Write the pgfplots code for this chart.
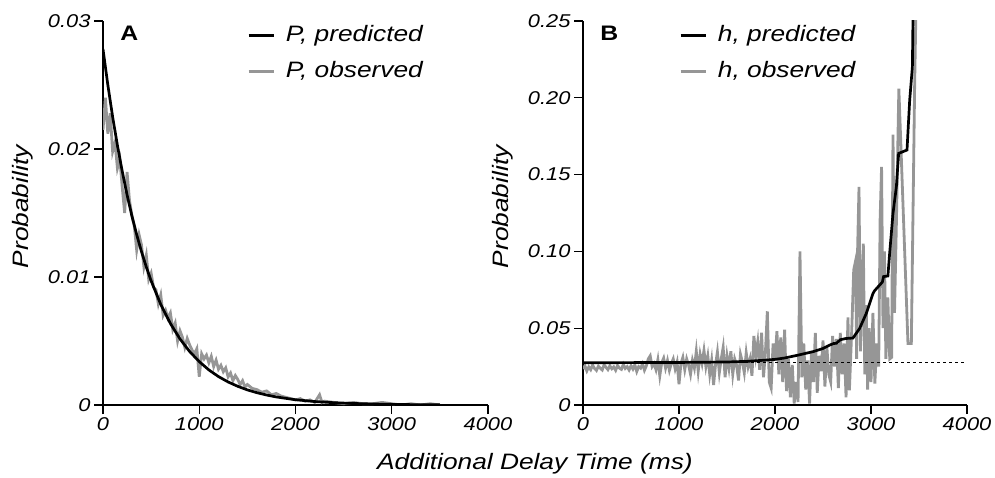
\documentclass[border=0pt]{standalone}
\usepackage{pgfplots}
\pgfplotsset{compat=1.18}
\usepackage{fontspec}
\setmainfont{Liberation Sans}[FakeStretch=1.18]
\definecolor{obsgray}{RGB}{150,150,150}
\pgfplotsset{
  panel/.style={
    scale only axis,
    axis x line=bottom, axis y line=left,
    axis line style={-, line width=1.2pt},
    every tick/.style={black, line width=1.2pt},
    tick align=outside,
    major tick length=9pt,
    xmin=0, xmax=4000,
    xtick={0,1000,2000,3000,4000},
    xticklabels={0,1000,2000,3000,4000},
    /pgf/number format/assume math mode=true,
    scaled ticks=false,
    tick label style={font=\itshape\fontsize{18.5}{19}\selectfont},
    ylabel={Probability},
    ylabel style={font=\itshape\fontsize{22.3}{24}\selectfont, at={(axis description cs:-0.208,0.516)}, anchor=center},
    legend style={draw=none, fill=none, inner sep=0pt, font=\itshape\fontsize{22.3}{24}\selectfont,
      nodes={inner sep=0pt, text height=16pt, text depth=5pt}, row sep=15pt, column sep=11pt},
    legend cell align=left,
    legend image code/.code={\draw[#1] (0pt,0pt) -- (25pt,0pt);},
  }
}
\begin{document}
\begin{tikzpicture}
\useasboundingbox (0,0) rectangle (995pt,477pt);
% Panel A
\begin{axis}[panel,
  at={(103pt,72pt)}, anchor=south west,
  width=385pt, height=384pt,
  ymin=0, ymax=0.03,
  ytick={0,0.01,0.02,0.03},
  yticklabels={0,0.01,0.02,0.03},
  legend style={at={(axis description cs:0.374,0.990)}, anchor=north west},
]
\addlegendimage{black, line width=2.7pt}
\addlegendentry{P, predicted}
\addlegendimage{obsgray, line width=2.7pt}
\addlegendentry{P, observed}
\addplot[obsgray, line width=2.8pt, forget plot] coordinates {
(0,0.0215) (25,0.0240) (50,0.0212) (75,0.0228) (100,0.0198) (125,0.0205) (150,0.0185) (175,0.0192)
(200,0.0170) (225,0.0150) (250,0.0182) (275,0.0160) (300,0.0148) (325,0.0140) (350,0.0121) (375,0.0133)
(400,0.0125) (425,0.0108) (450,0.0117) (475,0.0098) (500,0.0103) (525,0.0092) (550,0.0090) (575,0.0079)
(600,0.0086) (625,0.0070) (650,0.0074) (675,0.0068) (700,0.0072) (725,0.0059) (750,0.0064) (775,0.0050)
(800,0.0058) (825,0.0053) (850,0.0045) (875,0.0052) (900,0.0047) (925,0.0043) (950,0.0040) (975,0.0044)
(1000,0.0022) (1025,0.0040) (1050,0.0036) (1075,0.0039) (1100,0.0033) (1125,0.0038) (1150,0.0030) (1175,0.0035)
(1200,0.0028) (1225,0.0031) (1250,0.0026) (1275,0.0029) (1300,0.0022) (1325,0.0025) (1350,0.0019) (1375,0.0023)
(1400,0.0020) (1425,0.0016) (1450,0.0019) (1475,0.0014) (1500,0.0016) (1550,0.0013) (1600,0.0012) (1650,0.0010)
(1700,0.0011) (1750,0.0008) (1800,0.0009) (1850,0.0007) (1900,0.0006) (1950,0.0005) (2000,0.0004) (2050,0.0005)
(2100,0.0003) (2150,0.0004) (2200,0.0002) (2250,0.0008) (2275,0.0002) (2300,0.0003) (2400,0.0002) (2500,0.0001)
(2600,0.0002) (2700,0.0001) (2800,0.0001) (2900,0.0002) (3000,0.0001) (3100,0.0000) (3200,0.0001) (3300,0.0000)
(3400,0.0001) (3500,0.0000)
};
\addplot[black, line width=2.7pt, forget plot] coordinates {
(0,0.02780) (50,0.02502) (100,0.02252) (150,0.02027) (200,0.01825) (250,0.01642) (300,0.01478)
(350,0.01331) (400,0.01198) (450,0.01078) (500,0.00970) (600,0.00786) (700,0.00637) (800,0.00516)
(900,0.00418) (1000,0.00339) (1100,0.00274) (1200,0.00222) (1300,0.00180) (1400,0.00146) (1500,0.00118)
(1600,0.00096) (1700,0.00078) (1800,0.00063) (2000,0.00041) (2200,0.00027) (2400,0.00018) (2600,0.00012)
(2800,0.00008) (3000,0.00005) (3200,0.00003) (3500,0.00002)
};
\node[anchor=base west, font=\bfseries\fontsize{21}{22}\selectfont] at (axis description cs:0.036,0.948) {A};
\end{axis}
% Panel B
\begin{axis}[panel,
  at={(583pt,72pt)}, anchor=south west,
  width=384pt, height=384pt,
  ymin=0, ymax=0.25,
  ytick={0,0.05,0.10,0.15,0.20,0.25},
  yticklabels={0,0.05,0.10,0.15,0.20,0.25},
  legend style={at={(axis description cs:0.25,0.990)}, anchor=north west},
]
\addlegendimage{black, line width=2.7pt}
\addlegendentry{h, predicted}
\addlegendimage{obsgray, line width=2.7pt}
\addlegendentry{h, observed}
\addplot[obsgray, line width=2.8pt, forget plot] coordinates {
(0,0.0235) (20,0.0255) (40,0.0222) (60,0.0248) (80,0.0230) (100,0.0260) (120,0.0238) (140,0.0225)
(160,0.0252) (180,0.0240) (200,0.0228) (220,0.0262) (240,0.0245) (260,0.0230) (280,0.0255) (300,0.0236)
(320,0.0248) (340,0.0226) (360,0.0258) (380,0.0240) (400,0.0232) (420,0.0265) (440,0.0238) (460,0.0250)
(480,0.0228) (500,0.0256) (520,0.0234) (540,0.0262) (560,0.0218) (580,0.0250) (600,0.0240) (620,0.0268)
(640,0.0226) (660,0.0255) (680,0.0300) (700,0.0320) (720,0.0250) (740,0.0270) (760,0.0230) (780,0.0295)
(800,0.0190) (820,0.0275) (840,0.0305) (860,0.0240) (880,0.0290) (900,0.0225) (920,0.0270) (940,0.0300)
(960,0.0235) (980,0.0280) (1000,0.0135) (1020,0.0270) (1040,0.0310) (1060,0.0230) (1080,0.0300) (1100,0.0260)
(1120,0.0200) (1140,0.0290) (1160,0.0240) (1180,0.0350) (1200,0.0220) (1220,0.0330) (1240,0.0270) (1260,0.0355)
(1280,0.0250) (1300,0.0320) (1320,0.0200) (1340,0.0290) (1360,0.0130) (1380,0.0260) (1400,0.0345) (1420,0.0210)
(1440,0.0300) (1460,0.0375) (1480,0.0180) (1500,0.0320) (1520,0.0240) (1540,0.0350) (1560,0.0200) (1580,0.0300)
(1600,0.0260) (1620,0.0160) (1640,0.0330) (1660,0.0280) (1680,0.0210) (1700,0.0340) (1720,0.0250) (1740,0.0300)
(1760,0.0190) (1780,0.0450) (1800,0.0320) (1820,0.0410) (1840,0.0230) (1860,0.0470) (1880,0.0180) (1900,0.0340)
(1920,0.0610) (1940,0.0150) (1960,0.0110) (1980,0.0400) (2000,0.0290) (2020,0.0480) (2040,0.0200) (2060,0.0440)
(2080,0.0150) (2100,0.0490) (2120,0.0090) (2140,0.0300) (2160,0.0050) (2180,0.0260) (2200,0.0010) (2220,0.0150)
(2240,0.0020) (2260,0.1000) (2280,0.0180) (2300,0.0400) (2320,0.0100) (2340,0.0290) (2360,0.0010) (2380,0.0350)
(2400,0.0150) (2420,0.0470) (2440,0.0080) (2460,0.0320) (2480,0.0220) (2500,0.0420) (2520,0.0120) (2540,0.0380)
(2560,0.0200) (2580,0.0150) (2600,0.0450) (2620,0.0250) (2640,0.0430) (2660,0.0110) (2680,0.0470) (2700,0.0200)
(2720,0.0400) (2740,0.0050) (2760,0.0570) (2775,0.0095) (2800,0.0500) (2820,0.0880) (2840,0.0940) (2850,0.0300)
(2860,0.1000) (2875,0.1420) (2890,0.0350) (2905,0.0700) (2920,0.1050) (2935,0.0200) (2950,0.0650) (2965,0.0100)
(2980,0.0500) (3000,0.0150) (3020,0.0600) (3040,0.0140) (3060,0.0400) (3080,0.0250) (3095,0.1210) (3110,0.1550)
(3125,0.0500) (3140,0.1000) (3155,0.0300) (3175,0.0700) (3195,0.0300) (3215,0.0310) (3229,0.1760) (3245,0.0600)
(3265,0.1200) (3290,0.2060) (3385,0.0400) (3420,0.0400) (3455,0.2100) (3480,0.3000)
};
\addplot[black, line width=0.9pt, dash pattern=on 3pt off 3pt, forget plot] coordinates {(0,0.028) (4000,0.028)};
\addplot[black, line width=2.7pt, forget plot] coordinates {
(0,0.0275) (500,0.0276) (1000,0.0277) (1500,0.0280) (1700,0.0284) (1900,0.0292) (2000,0.0297) (2100,0.0306)
(2250,0.0326) (2400,0.0348) (2500,0.0368) (2570,0.0390) (2610,0.0400) (2640,0.0402) (2680,0.0425) (2740,0.0433)
(2812,0.0436) (2880,0.0497) (2950,0.0595) (3020,0.0725) (3037,0.0744) (3118,0.0800) (3131,0.0836) (3176,0.0840)
(3194,0.0986) (3229,0.1247) (3264,0.1420) (3288,0.1638) (3375,0.1660) (3403,0.1985) (3431,0.2200) (3437,0.2500)
(3445,0.3200)
};
\node[anchor=base west, font=\bfseries\fontsize{21}{22}\selectfont] at (axis description cs:0.036,0.948) {B};
\end{axis}
\node[anchor=base, font=\itshape\fontsize{22.3}{24}\selectfont] at (535pt,8pt) {Additional Delay Time (ms)};
\end{tikzpicture}
\end{document}
